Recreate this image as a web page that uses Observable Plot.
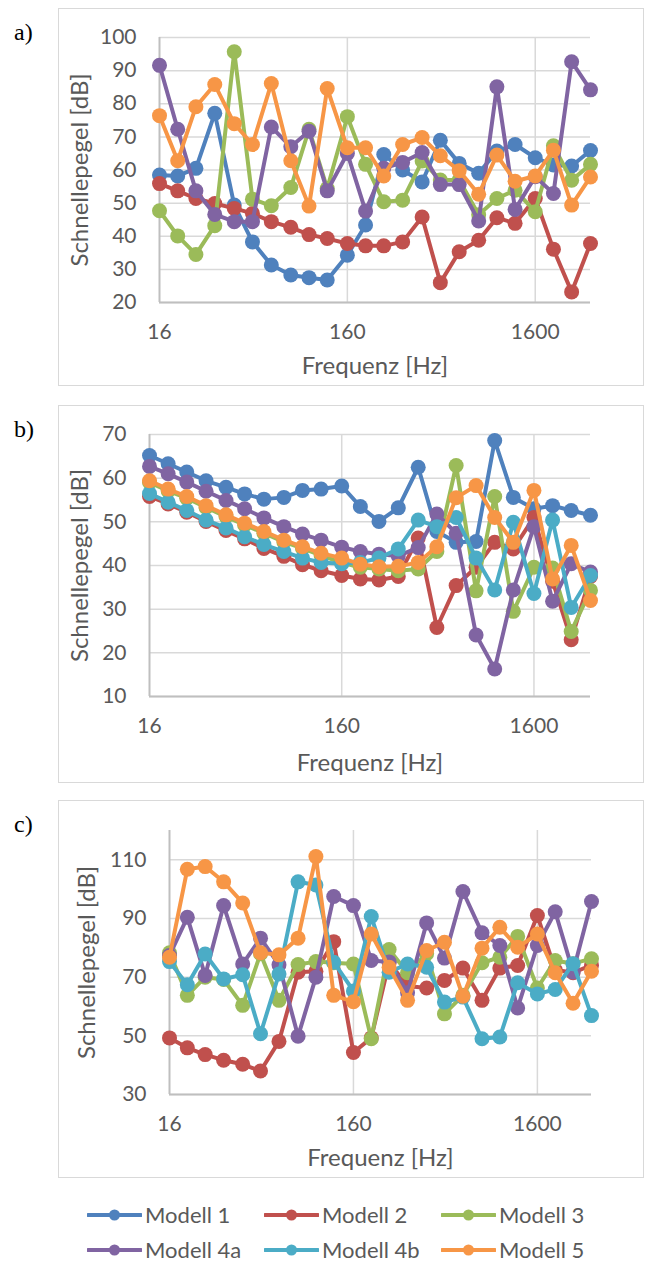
<!DOCTYPE html>
<html><head><meta charset="utf-8">
<script src="https://cdn.jsdelivr.net/npm/d3@7"></script>
<script src="https://cdn.jsdelivr.net/npm/@observablehq/plot@0.6"></script>
<style>
html,body{margin:0;padding:0;background:#fff;}
body{width:649px;height:1261px;position:relative;overflow:hidden;font-family:Lato,sans-serif;}
.box{position:absolute;left:58px;width:586px;height:378px;border:1px solid #d9d9d9;box-sizing:border-box;background:#fff;}
.box svg{position:absolute;left:0;top:0;}
.tag{position:absolute;left:14px;font-family:"Liberation Serif","Times New Roman",serif;font-size:24px;color:#000;line-height:1;}
.leg{position:absolute;width:172px;height:22px;display:flex;align-items:center;font-size:22px;line-height:22px;color:#595959;white-space:nowrap;}
.leg span{line-height:22px;}
.leg svg{margin-right:3px;flex:none;}
</style>
</head><body>
<script>
// third-octave band centre frequencies (Hz)
const freqs = [16,20,25,31.5,40,50,63,80,100,125,160,200,250,315,400,500,630,800,1000,1250,1600,2000,2500,3150];
const seriesNames = ["Modell 1","Modell 2","Modell 3","Modell 4a","Modell 4b","Modell 5"];
const seriesColors = ["#4F81BD","#C0504D","#9BBB59","#8064A2","#4BACC6","#F79646"];

// panel a)
const a_m1  = [58.5,58.2,60.5,77.1,49.4,38.3,31.3,28.3,27.5,26.8,34.3,43.4,64.7,60.0,56.4,69.0,62.0,59.0,65.7,67.7,63.7,61.5,61.2,65.9];
const a_m2  = [55.9,53.7,51.4,49.9,48.4,46.9,44.4,42.7,40.5,39.3,37.8,37.1,37.1,38.3,45.8,26.0,35.3,38.8,45.6,43.9,51.4,36.1,23.2,37.8];
const a_m3  = [47.7,40.1,34.5,43.2,95.7,51.2,49.2,54.7,72.3,54.4,76.1,61.7,50.4,50.9,62.7,57.0,57.0,46.5,51.4,53.9,47.4,67.3,56.9,61.7];
const a_m4a = [91.6,72.3,53.7,46.6,44.4,44.4,73.0,67.0,71.7,53.7,65.0,47.6,60.5,62.3,65.3,55.6,55.6,44.6,85.1,48.1,58.0,52.9,92.7,84.2];
const a_m5  = [76.4,62.8,79.1,85.8,74.0,67.7,86.1,62.8,49.1,84.6,66.7,66.7,58.2,67.7,69.8,64.3,59.8,52.7,64.5,56.6,58.2,66.0,49.4,57.9];

// panel b)
const b_m1  = [65.2,63.3,61.4,59.4,57.9,56.4,55.2,55.6,57.2,57.5,58.2,53.5,50.1,53.2,62.5,47.8,45.3,45.5,68.6,55.6,53.0,53.7,52.6,51.5];
const b_m2  = [55.8,54.1,52.2,50.1,48.0,46.1,43.9,42.1,40.2,38.8,37.7,36.9,36.7,37.5,46.3,25.8,35.4,39.6,45.3,43.8,51.0,36.4,23.0,37.5];
const b_m3  = [59.0,57.1,55.4,53.3,51.2,49.3,47.4,45.4,43.9,42.3,40.6,39.6,39.2,38.8,39.2,43.2,62.9,34.2,55.8,29.5,39.6,39.4,24.9,34.3];
const b_m4a = [62.7,61.0,59.1,57.0,54.9,53.0,50.9,48.9,47.2,45.8,44.2,43.2,42.6,42.2,44.1,51.8,47.4,24.1,16.3,34.4,48.9,31.8,40.4,38.5];
const b_m4b = [56.5,54.5,52.6,50.4,48.6,46.6,44.8,43.2,41.7,40.7,40.4,40.7,41.7,43.8,50.4,48.9,51.0,41.7,34.4,49.9,33.6,50.4,30.4,37.7];
const b_m5  = [59.4,57.5,55.8,53.7,51.6,49.7,47.8,45.8,44.3,42.8,41.7,40.3,39.7,39.8,40.7,44.3,55.5,58.3,51.0,45.3,57.2,36.9,44.6,32.0];

// panel c)
const c_m2  = [49.3,45.9,43.6,41.7,40.3,38.0,48.1,71.7,72.0,82.1,44.3,49.3,75.0,67.0,66.3,68.9,73.1,62.1,73.1,74.0,91.0,72.5,71.5,74.1];
const c_m3  = [78.3,63.8,70.0,69.2,60.4,78.0,62.1,74.3,75.3,74.9,74.5,49.0,79.4,71.5,78.0,57.5,63.8,74.9,76.8,83.9,66.3,75.7,74.6,76.3];
const c_m4a = [77.4,90.4,70.6,94.4,74.5,83.3,74.2,49.9,70.0,97.5,94.4,75.7,75.2,64.7,88.5,76.5,99.2,85.1,80.8,59.5,80.8,92.3,71.8,95.8];
const c_m4b = [75.3,67.4,77.9,69.4,70.8,50.7,71.1,102.5,101.4,75.1,65.3,90.7,71.7,74.5,73.4,61.5,63.2,49.0,49.6,68.1,64.3,65.8,74.6,56.9];
const c_m5  = [76.8,106.8,107.7,102.5,95.3,78.3,77.6,83.3,111.1,63.8,61.6,84.7,73.4,62.1,79.1,81.9,63.5,79.9,87.0,80.2,84.7,71.5,61.1,72.0];

// axis tick labels
const xTicks = [16,160,1600];
const a_yTicks = [20,30,40,50,60,70,80,90,100];
const b_yTicks = [10,20,30,40,50,60,70];
const c_yTicks = [30,50,70,90,110];
const xTitle = "Frequenz [Hz]";
const yTitle = "Schnellepegel [dB]";

function rowsOf(obj){
  const out = [];
  for (const [name, vals] of Object.entries(obj)) {
    vals.forEach((v,i) => out.push({series:name, f:freqs[i], v}));
  }
  return out;
}

const panels = [
  {tag:"a)", top:8, yDomain:[20,100], yTicks:a_yTicks, m:{l:100,r:53,t:28,b:83}, xOff:64, yOff:79,
   data: rowsOf({"Modell 1":a_m1,"Modell 2":a_m2,"Modell 3":a_m3,"Modell 4a":a_m4a,"Modell 5":a_m5})},
  {tag:"b)", top:405, yDomain:[10,70], yTicks:b_yTicks, m:{l:90,r:53,t:28,b:86}, xOff:67, yOff:69,
   data: rowsOf({"Modell 1":b_m1,"Modell 2":b_m2,"Modell 3":b_m3,"Modell 4a":b_m4a,"Modell 4b":b_m4b,"Modell 5":b_m5})},
  {tag:"c)", top:800, yDomain:[30,120], yTicks:c_yTicks, m:{l:110,r:52,t:29,b:83}, xOff:64, yOff:82,
   data: rowsOf({"Modell 2":c_m2,"Modell 3":c_m3,"Modell 4a":c_m4a,"Modell 4b":c_m4b,"Modell 5":c_m5})}
];

const textColor = "#595959";
const fontFamily = "Lato, sans-serif";

for (const p of panels) {
  const box = document.createElement("div");
  box.className = "box";
  box.style.top = p.top + "px";
  document.body.appendChild(box);
  const tag = document.createElement("div");
  tag.className = "tag";
  tag.textContent = p.tag;
  tag.style.top = (p.top + 12) + "px";
  document.body.appendChild(tag);

  const seriesMarks = [];
  for (const s of seriesNames) {
    if (!p.data.some(d => d.series === s)) continue;
    const filt = d => d.series === s;
    seriesMarks.push(Plot.line(p.data, {filter: filt, x:"f", y:"v", stroke:"series", strokeWidth:4, strokeLinejoin:"round"}));
    seriesMarks.push(Plot.dot(p.data, {filter: filt, x:"f", y:"v", fill:"series", r:7.5}));
  }

  const chart = Plot.plot({
    width: 584, height: 376,
    marginLeft: p.m.l, marginRight: p.m.r, marginTop: p.m.t, marginBottom: p.m.b,
    style: {fontFamily, background:"transparent", overflow:"visible"},
    x: {type:"log", domain:[16,3150]},
    y: {domain:p.yDomain},
    color: {domain: seriesNames, range: seriesColors},
    marks: [
      Plot.gridY(p.yTicks, {stroke:"#d9d9d9", strokeOpacity:1, strokeWidth:1.5}),
      Plot.gridX([160,1600], {stroke:"#d9d9d9", strokeOpacity:1, strokeWidth:1.5}),
      Plot.ruleX([16], {stroke:"#bfbfbf", strokeWidth:2}),
      Plot.ruleY([p.yDomain[0]], {stroke:"#bfbfbf", strokeWidth:2}),
      Plot.axisY(p.yTicks, {tickSize:0, tickPadding:23, fontSize:21, color:textColor, label:null}),
      Plot.axisX(xTicks, {tickSize:0, tickPadding:22, fontSize:21, color:textColor, label:null, tickFormat: d => String(d)}),
      Plot.text([xTitle], {frameAnchor:"bottom", dy:p.xOff, textAnchor:"middle", lineAnchor:"middle", fontSize:24, fill:textColor}),
      Plot.text([yTitle], {frameAnchor:"left", dx:-p.yOff, rotate:-90, textAnchor:"middle", lineAnchor:"middle", fontSize:24, fill:textColor}),
      ...seriesMarks
    ]
  });
  box.appendChild(chart);
}

// legend
const legCols = [87, 264, 441];
const legRows = [1215, 1250];
seriesNames.forEach((name, i) => {
  const item = document.createElement("div");
  item.className = "leg";
  item.style.left = legCols[i % 3] + "px";
  item.style.top = (legRows[Math.floor(i / 3)] - 11) + "px";
  item.innerHTML = `<svg width="55" height="14"><line x1="1" y1="7" x2="54" y2="7" stroke="${seriesColors[i]}" stroke-width="4" stroke-linecap="round"/><circle cx="27.5" cy="7" r="5.5" fill="${seriesColors[i]}"/></svg><span>${name}</span>`;
  document.body.appendChild(item);
});
</script>
</body></html>
